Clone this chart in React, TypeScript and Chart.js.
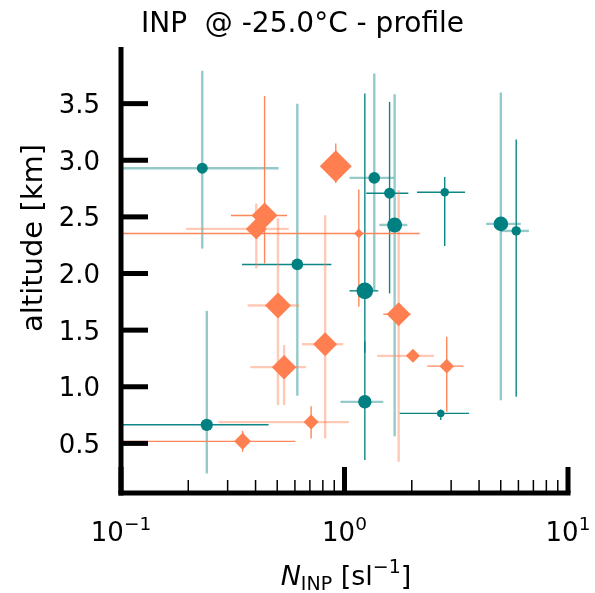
import React, { useEffect, useRef } from 'react';
import { Chart, registerables } from 'chart.js';

Chart.register(...registerables);

// ---- teal circles ----
const tealN = [0.231, 0.615, 1.359, 1.591, 1.676, 2.808, 5.007, 5.865, 1.233, 1.233, 2.696, 0.242];
const tealAlt = [2.93, 2.08, 2.844, 2.709, 2.429, 2.718, 2.438, 2.376, 1.847, 0.867, 0.765, 0.664];
const tealNLo = [0.06, 0.348, 1.053, 1.251, 1.431, 2.11, 4.301, 5.007, 1.053, 0.959, 1.764, 0.06];
const tealNHi = [0.507, 0.874, 1.663, 1.931, 1.911, 3.463, 6.152, 6.685, 1.416, 1.491, 3.609, 0.4575];
const tealAltLo = [2.22, 0.92, 1.853, 1.824, 0.564, 2.244, 0.882, 0.911, 1.3, 0.353, 0.706, 0.235];
const tealAltHi = [3.79, 3.5, 3.766, 3.515, 3.583, 2.853, 3.598, 3.183, 3.589, 1.4, 0.8, 1.67];
const tealWeight = [30, 34, 34, 30, 56, 18, 53, 22, 69, 45, 14, 38];
const tealNErrKind = ['faint', 'solid', 'faint', 'solid', 'faint', 'solid', 'faint', 'faint', 'solid', 'faint', 'solid', 'solid'];
const tealAltErrKind = ['faint', 'faint', 'faint', 'solid', 'faint', 'solid', 'faint', 'solid', 'solid', 'solid', 'solid', 'faint'];

// ---- coral diamonds ----
const coralN = [0.914, 0.439, 0.403, 1.159, 0.504, 0.819, 0.5366, 1.747, 2.024, 2.867, 0.709, 0.35];
const coralAlt = [2.947, 2.512, 2.394, 2.353, 1.718, 1.376, 1.173, 1.641, 1.273, 1.182, 0.688, 0.518];
const coralNLo = [0.85, 0.3105, 0.1956, 0.06, 0.3685, 0.646, 0.379, 1.491, 1.401, 2.349, 0.273, 0.06];
const coralNHi = [0.98, 0.553, 0.5626, 2.169, 0.6285, 0.987, 0.673, 1.977, 2.514, 3.406, 1.045, 0.603];
const coralAltLo = [2.8, 2.089, 2.045, 1.706, 0.838, 0.544, 0.838, 0.338, 1.24, 0.779, 0.544, 0.426];
const coralAltHi = [3.148, 3.568, 2.618, 2.742, 2.486, 2.515, 1.368, 2.736, 1.31, 1.441, 0.829, 0.611];
const coralWeight = [256, 169, 110, 22, 169, 144, 151, 144, 49, 53, 56, 72];
const coralNErrKind = ['solid', 'solid', 'faint', 'solid', 'faint', 'faint', 'faint', 'solid', 'faint', 'solid', 'faint', 'solid'];
const coralAltErrKind = ['solid', 'solid', 'faint', 'solid', 'faint', 'faint', 'faint', 'faint', 'faint', 'solid', 'solid', 'solid'];

// ---- axes ----
const yTicks = [0.5, 1.0, 1.5, 2.0, 2.5, 3.0, 3.5];
const xDecades = [0.1, 1, 10];
const xDecadeExp = ['\u22121', '0', '1'];
const titleText = 'INP  @ -25.0\u00b0C - profile';
const yLabelText = 'altitude [km]';

const TEAL = '#008080';
const CORAL = '#FF7F50';
const FONT = '"DejaVu Sans", sans-serif';

function drawBars(ctx: CanvasRenderingContext2D, xs: any, ys: any, n: number[], alt: number[],
  nLo: number[], nHi: number[], aLo: number[], aHi: number[], hk: string[], vk: string[], rgb: string) {
  const setKind = (k: string) => {
    if (k === 'faint') { ctx.strokeStyle = `rgba(${rgb},0.42)`; ctx.lineWidth = 2.4; }
    else { ctx.strokeStyle = `rgba(${rgb},0.95)`; ctx.lineWidth = 1.4; }
  };
  for (let i = 0; i < n.length; i++) {
    const px = xs.getPixelForValue(n[i]);
    const py = ys.getPixelForValue(alt[i]);
    setKind(hk[i]);
    ctx.beginPath();
    ctx.moveTo(xs.getPixelForValue(nLo[i]), py);
    ctx.lineTo(xs.getPixelForValue(nHi[i]), py);
    ctx.stroke();
    setKind(vk[i]);
    ctx.beginPath();
    ctx.moveTo(px, ys.getPixelForValue(aLo[i]));
    ctx.lineTo(px, ys.getPixelForValue(aHi[i]));
    ctx.stroke();
  }
}

const decor = {
  id: 'decor',
  beforeDatasetsDraw(chart: any) {
    const { ctx, chartArea: ca, scales } = chart;
    ctx.save();
    ctx.beginPath();
    ctx.rect(ca.left, ca.top, ca.right - ca.left, ca.bottom - ca.top);
    ctx.clip();
    drawBars(ctx, scales.x, scales.y, tealN, tealAlt, tealNLo, tealNHi, tealAltLo, tealAltHi, tealNErrKind, tealAltErrKind, '0,128,128');
    drawBars(ctx, scales.x, scales.y, coralN, coralAlt, coralNLo, coralNHi, coralAltLo, coralAltHi, coralNErrKind, coralAltErrKind, '255,127,80');
    ctx.restore();
  },
  afterDraw(chart: any) {
    const { ctx, chartArea: ca, scales } = chart;
    const xs = scales.x, ys = scales.y;
    ctx.save();
    ctx.fillStyle = '#000';
    ctx.strokeStyle = '#000';
    const sw = 5;
    // spines
    ctx.fillRect(ca.left - sw / 2, ca.top, sw, ca.bottom - ca.top + sw / 2);
    const xEnd = xs.getPixelForValue(10);
    ctx.fillRect(ca.left - sw / 2, ca.bottom - sw / 2, xEnd + sw / 2 - (ca.left - sw / 2), sw);
    // y ticks + labels
    ctx.font = `26px ${FONT}`;
    ctx.textAlign = 'right';
    ctx.textBaseline = 'alphabetic';
    for (const t of yTicks) {
      const py = ys.getPixelForValue(t);
      ctx.fillRect(ca.left, py - sw / 2, 27, sw);
      ctx.fillText(t.toFixed(1), ca.left - 21, py + 9.5);
    }
    // x minor ticks
    ctx.lineWidth = 1.5;
    for (let d = 0; d < xDecades.length - 1; d++) {
      for (let k = 2; k <= 9; k++) {
        const px = xs.getPixelForValue(xDecades[d] * k);
        ctx.beginPath();
        ctx.moveTo(px, ca.bottom);
        ctx.lineTo(px, ca.bottom - 13);
        ctx.stroke();
      }
    }
    // x major ticks + labels
    const big = 26, small = 18.5;
    for (let d = 0; d < xDecades.length; d++) {
      const px = xs.getPixelForValue(xDecades[d]);
      ctx.fillRect(px - sw / 2, ca.bottom - 26, sw, 26);
      ctx.font = `${big}px ${FONT}`;
      const w1 = ctx.measureText('10').width;
      ctx.font = `${small}px ${FONT}`;
      const w2 = ctx.measureText(xDecadeExp[d]).width;
      const x0 = px - (w1 + w2) / 2;
      const base = 541;
      ctx.textAlign = 'left';
      ctx.font = `${big}px ${FONT}`;
      ctx.fillText('10', x0, base);
      ctx.font = `${small}px ${FONT}`;
      ctx.fillText(xDecadeExp[d], x0 + w1, base - 11);
    }
    // x label
    const pieces = [
      { t: 'N', f: `italic 27px ${FONT}`, dy: 0 },
      { t: 'INP', f: `19px ${FONT}`, dy: 5 },
      { t: ' [sl', f: `27px ${FONT}`, dy: 0 },
      { t: '\u22121', f: `19px ${FONT}`, dy: -12 },
      { t: ']', f: `27px ${FONT}`, dy: 0 },
    ];
    let total = 0;
    const widths: number[] = [];
    for (const p of pieces) { ctx.font = p.f; const w = ctx.measureText(p.t).width; widths.push(w); total += w; }
    let cx = 346 - total / 2;
    ctx.textAlign = 'left';
    pieces.forEach((p, i) => { ctx.font = p.f; ctx.fillText(p.t, cx, 585 + p.dy); cx += widths[i]; });
    // y label
    ctx.save();
    ctx.translate(42, 238);
    ctx.rotate(-Math.PI / 2);
    ctx.textAlign = 'center';
    ctx.font = `29px ${FONT}`;
    ctx.fillText(yLabelText, 0, 0);
    ctx.restore();
    // title
    ctx.textAlign = 'center';
    ctx.font = `28px ${FONT}`;
    ctx.fillText(titleText, 302.5, 32);
    ctx.restore();
  },
};

export default function App() {
  const ref = useRef<HTMLCanvasElement>(null);
  useEffect(() => {
    const canvas = ref.current!;
    const chart = new Chart(canvas, {
      type: 'scatter',
      data: {
        datasets: [
          {
            label: 'teal',
            data: tealN.map((v, i) => ({ x: v, y: tealAlt[i] })),
            pointStyle: 'circle',
            pointRadius: tealWeight.map((w) => Math.sqrt(w)),
            pointHoverRadius: tealWeight.map((w) => Math.sqrt(w)),
            backgroundColor: TEAL,
            borderColor: TEAL,
            borderWidth: 0,
          },
          {
            label: 'coral',
            data: coralN.map((v, i) => ({ x: v, y: coralAlt[i] })),
            pointStyle: 'rectRot',
            pointRadius: coralWeight.map((w) => Math.sqrt(w)),
            pointHoverRadius: coralWeight.map((w) => Math.sqrt(w)),
            backgroundColor: CORAL,
            borderColor: CORAL,
            borderWidth: 0,
          },
        ],
      },
      options: {
        responsive: false,
        animation: false,
        devicePixelRatio: 1,
        events: [],
        layout: { padding: { left: 121, right: 27, top: 47, bottom: 100 } },
        scales: {
          x: { type: 'logarithmic', min: 0.1, max: 10, display: false },
          y: { type: 'linear', min: 0.062, max: 4.0, display: false },
        },
        plugins: {
          legend: { display: false },
          tooltip: { enabled: false },
          title: { display: false },
        },
      } as any,
      plugins: [decor],
    });
    return () => chart.destroy();
  }, []);
  return (
    <div style={{ position: 'absolute', left: 0, top: 0, width: 595, height: 593, background: '#fff' }}>
      <canvas ref={ref} width={595} height={593} style={{ display: 'block', width: 595, height: 593 }} />
    </div>
  );
}
